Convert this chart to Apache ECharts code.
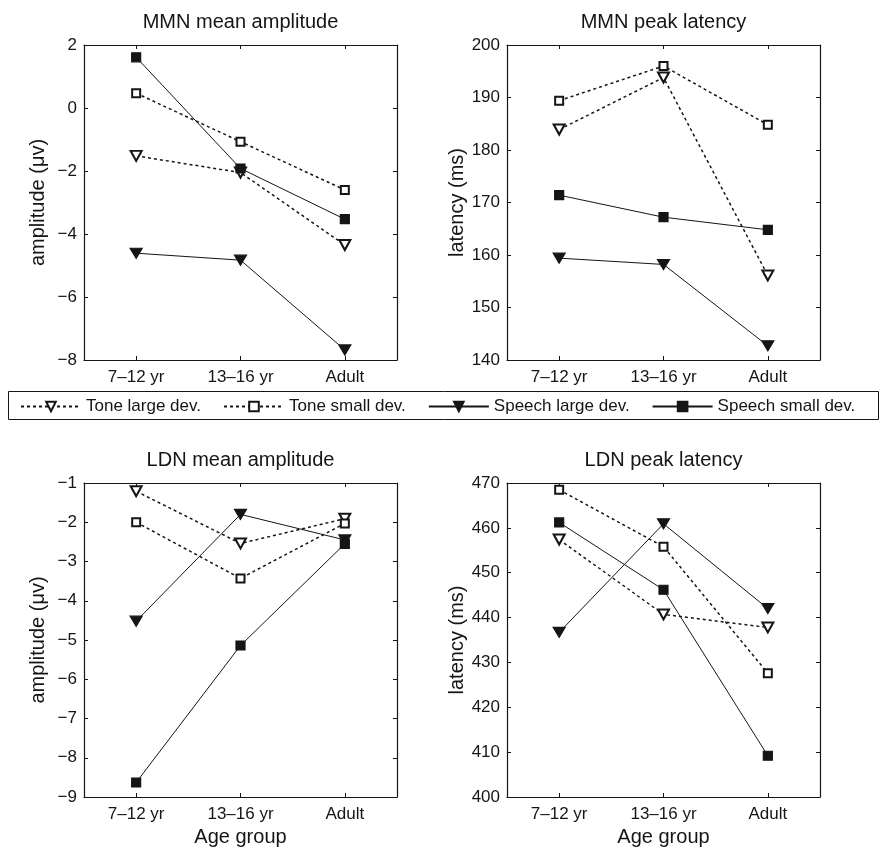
<!DOCTYPE html>
<html><head><meta charset="utf-8">
<script src="https://cdn.jsdelivr.net/npm/echarts@6/dist/echarts.min.js"></script>
<style>html,body{margin:0;padding:0;background:#fff}#c{width:881px;height:848px}</style>
</head><body><div id="c"></div>
<script>
// ---- data ----
const categories = ['7–12 yr', '13–16 yr', 'Adult'];
const seriesNames = ['Tone large dev.', 'Tone small dev.', 'Speech large dev.', 'Speech small dev.'];

const mmnAmpToneLarge   = [-1.52, -2.05, -4.35];
const mmnAmpToneSmall   = [0.47, -1.07, -2.60];
const mmnAmpSpeechLarge = [-4.61, -4.83, -7.68];
const mmnAmpSpeechSmall = [1.61, -1.92, -3.53];

const mmnLatToneLarge   = [183.9, 193.8, 156.1];
const mmnLatToneSmall   = [189.4, 196.0, 184.8];
const mmnLatSpeechLarge = [159.4, 158.2, 142.7];
const mmnLatSpeechSmall = [171.4, 167.2, 164.8];

const ldnAmpToneLarge   = [-1.21, -2.54, -1.91];
const ldnAmpToneSmall   = [-2.00, -3.43, -2.03];
const ldnAmpSpeechLarge = [-4.52, -1.80, -2.45];
const ldnAmpSpeechSmall = [-8.63, -5.14, -2.55];

const ldnLatToneLarge   = [457.4, 440.7, 437.8];
const ldnLatToneSmall   = [468.5, 455.8, 427.6];
const ldnLatSpeechLarge = [436.7, 460.9, 442.0];
const ldnLatSpeechSmall = [461.2, 446.2, 409.2];

const panelTitles = ['MMN mean amplitude', 'MMN peak latency', 'LDN mean amplitude', 'LDN peak latency'];
const yAxisNames = ['amplitude (μv)', 'latency (ms)', 'amplitude (μv)', 'latency (ms)'];
const xAxisName = 'Age group';
const yMins = [-8, 140, -9, 400];
const yMaxs = [2, 200, -1, 470];
const yIntervals = [2, 10, 1, 10];

const panelData = [
  [mmnAmpToneLarge, mmnAmpToneSmall, mmnAmpSpeechLarge, mmnAmpSpeechSmall],
  [mmnLatToneLarge, mmnLatToneSmall, mmnLatSpeechLarge, mmnLatSpeechSmall],
  [ldnAmpToneLarge, ldnAmpToneSmall, ldnAmpSpeechLarge, ldnAmpSpeechSmall],
  [ldnLatToneLarge, ldnLatToneSmall, ldnLatSpeechLarge, ldnLatSpeechSmall]
];

// ---- layout / style ----
const FONT = 'Liberation Sans, Arial, Helvetica, sans-serif';
const INK = '#151515';
const gridPos = [
  {left: 84, top: 45}, {left: 507, top: 45},
  {left: 84, top: 483}, {left: 507, top: 483}
];
const GW = 313, GH = 315;

const styles = [
  {symbol: 'emptyTriangle', symbolRotate: 180, symbolSize: [11, 10], line: {type: [3, 3], width: 1.5}},
  {symbol: 'emptyRect', symbolRotate: 0, symbolSize: 8, line: {type: [3, 3], width: 1.5}},
  {symbol: 'triangle', symbolRotate: 180, symbolSize: [12, 10], line: {type: 'solid', width: 1}},
  {symbol: 'rect', symbolRotate: 0, symbolSize: 9, line: {type: 'solid', width: 1}}
];

const grid = [], xAxis = [], yAxis = [], series = [], graphic = [];
const axisLine = {show: true, onZero: false, lineStyle: {color: INK, width: 1.2}};
const tick = {show: true, inside: true, length: 4, lineStyle: {color: INK, width: 1}};
const minusFmt = v => String(v).replace('-', '\u2212');

for (let i = 0; i < 4; i++) {
  grid.push({left: gridPos[i].left, top: gridPos[i].top, width: GW, height: GH, containLabel: false});
  const bottomRow = i >= 2;
  xAxis.push({
    type: 'category', gridIndex: i, data: categories, position: 'bottom', boundaryGap: true,
    axisLine, axisTick: Object.assign({alignWithLabel: true}, tick),
    axisLabel: {color: INK, fontSize: 17, fontFamily: FONT, margin: 9},
    name: bottomRow ? xAxisName : '', nameLocation: 'middle', nameGap: 30,
    nameTextStyle: {color: INK, fontSize: 20, fontFamily: FONT}
  });
  xAxis.push({
    type: 'category', gridIndex: i, data: categories, position: 'top', boundaryGap: true,
    axisLine, axisTick: Object.assign({alignWithLabel: true}, tick), axisLabel: {show: false}
  });
  yAxis.push({
    type: 'value', gridIndex: i, min: yMins[i], max: yMaxs[i], interval: yIntervals[i], position: 'left',
    axisLine, axisTick: tick, splitLine: {show: false},
    axisLabel: {color: INK, fontSize: 17, fontFamily: FONT, margin: 7, formatter: minusFmt},
    name: yAxisNames[i], nameLocation: 'middle', nameGap: 36, nameRotate: 90,
    nameTextStyle: {color: INK, fontSize: 20, fontFamily: FONT}
  });
  yAxis.push({
    type: 'value', gridIndex: i, min: yMins[i], max: yMaxs[i], interval: yIntervals[i], position: 'right',
    axisLine, axisTick: tick, splitLine: {show: false}, axisLabel: {show: false}
  });
  for (let s = 0; s < 4; s++) {
    const st = styles[s];
    series.push({
      type: 'line', name: seriesNames[s], xAxisIndex: 2 * i, yAxisIndex: 2 * i,
      data: panelData[i][s],
      symbol: st.symbol, symbolRotate: st.symbolRotate, symbolSize: st.symbolSize, showAllSymbol: true,
      lineStyle: {color: INK, width: st.line.width, type: st.line.type},
      itemStyle: {color: INK, borderColor: INK, borderWidth: 1.2},
      emphasis: {disabled: true}, z: 2 + s
    });
  }
  graphic.push({
    type: 'text',
    x: gridPos[i].left + GW / 2, y: gridPos[i].top - 23,
    style: {text: panelTitles[i], fill: INK, font: '20px ' + FONT, textAlign: 'center', textVerticalAlign: 'middle'}
  });
}

graphic.push({
  type: 'rect', shape: {x: 8.5, y: 391.5, width: 870, height: 28},
  style: {fill: 'none', stroke: INK, lineWidth: 1}, z: 0
});

const chart = echarts.init(document.getElementById('c'), null, {renderer: 'canvas'});
chart.setOption({
  animation: false,
  backgroundColor: '#fff',
  textStyle: {fontFamily: FONT},
  grid, xAxis, yAxis, series, graphic,
  legend: {
    data: seriesNames, left: 20, top: 398, padding: 0,
    itemWidth: 60, itemHeight: 12, itemGap: 22,
    textStyle: {color: INK, fontSize: 17, fontFamily: FONT},
    selectedMode: false
  }
});
</script></body></html>
